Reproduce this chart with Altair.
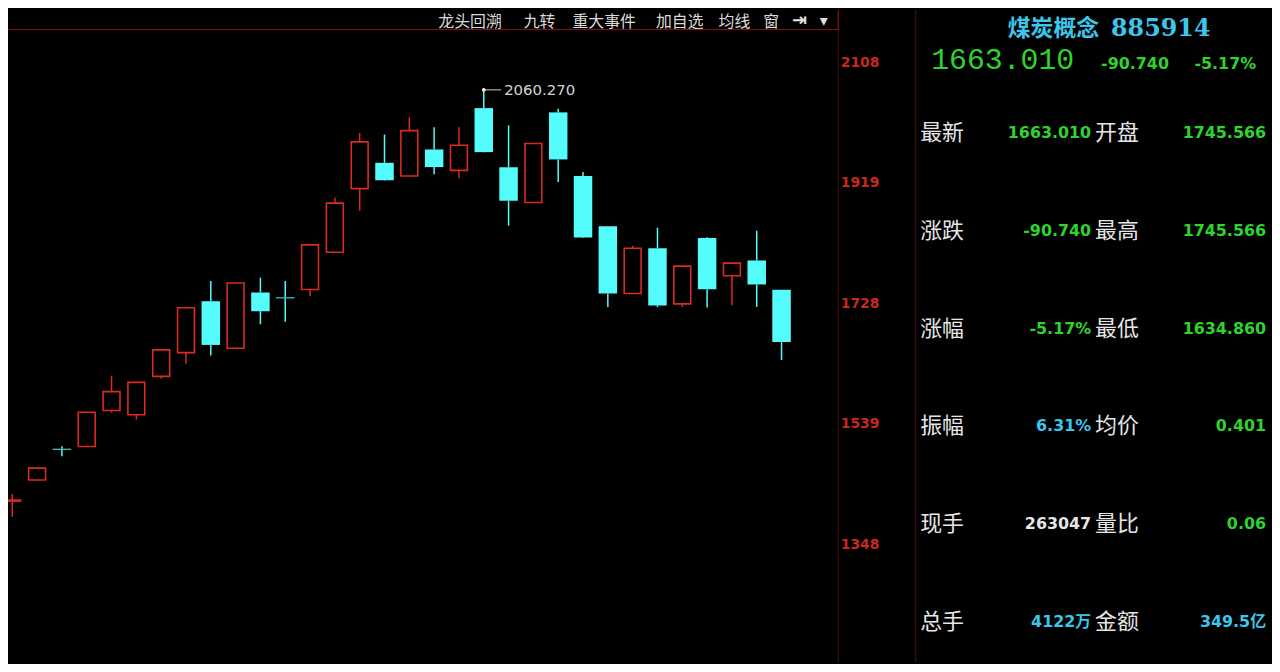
import altair as alt
import pandas as pd

# ---------------- data ----------------
opens = [1412.6, 1445.8, 1495.0, 1498.5, 1555.3, 1548.6, 1609.0, 1646.5,
         1727.4, 1653.4, 1741.1, 1733.5, 1745.8, 1804.6, 1904.8, 1945.4,
         1924.6, 1966.4, 1933.5, 2031.5, 1938.2, 1882.9, 2024.8, 1924.6,
         1845.3, 1739.5, 1810.9, 1723.2, 1827.1, 1767.6, 1791.6, 1745.566]
highs = [1423.8, 1466.1, 1498.9, 1553.4, 1610.1, 1600.3, 1652.3, 1718.5,
         1759.2, 1757.0, 1764.5, 1759.2, 1817.0, 1890.7, 1992.4, 1989.9,
         2016.9, 2001.3, 2001.3, 2060.27, 2004.4, 1976.5, 2030.5, 1930.9,
         1846.0, 1814.6, 1843.2, 1783.5, 1828.0, 1788.0, 1838.5, 1745.566]
lows = [1387.8, 1444.2, 1483.3, 1497.8, 1552.2, 1541.2, 1605.4, 1628.9,
        1641.9, 1652.5, 1691.0, 1695.0, 1735.3, 1804.0, 1869.9, 1917.2,
        1924.0, 1927.3, 1921.0, 1961.5, 1846.4, 1882.2, 1915.2, 1827.0,
        1718.5, 1739.0, 1718.0, 1718.5, 1717.6, 1721.2, 1718.5, 1634.86]
closes = [1414.2, 1464.5, 1493.6, 1552.6, 1585.0, 1599.6, 1650.8, 1717.0,
          1658.6, 1756.1, 1711.8, 1732.0, 1816.2, 1881.9, 1978.3, 1917.9,
          1996.1, 1938.7, 1973.1, 1962.2, 1885.5, 1975.8, 1950.7, 1827.6,
          1739.5, 1810.9, 1720.7, 1782.7, 1746.2, 1787.4, 1753.8, 1663.01]

y_ticks = [2108, 1919, 1728, 1539, 1348]

toolbar_items = ["龙头回溯", "九转", "重大事件", "加自选", "均线", "窗"]

title_name = "煤炭概念"
title_code = "885914"
quote_last = "1663.010"
quote_change = "-90.740"
quote_pct = "-5.17%"

panel_left_labels = ["最新", "涨跌", "涨幅", "振幅", "现手", "总手"]
panel_left_values = ["1663.010", "-90.740", "-5.17%", "6.31%", "263047", "4122万"]
panel_right_labels = ["开盘", "最高", "最低", "均价", "量比", "金额"]
panel_right_values = ["1745.566", "1745.566", "1634.860", "0.401", "0.06", "349.5亿"]

# ---------------- styles / layout ----------------
RED = "#D92B1F"
CYAN = "#54FCFC"
AXIS_RED = "#C8281E"
GREEN = "#2ED42E"
BLUE = "#3CC6EC"
WHITE = "#E6E6E6"
FRAME = "#5A0C0C"
FRAME_BRIGHT = "#8A1414"
CJK = "Noto Sans CJK SC"
NUM = "DejaVu Sans, Noto Sans CJK SC"

W, H = 1272, 656
TOOLBAR_X = [433, 519, 568, 652, 715, 760]
left_value_colors = [GREEN, GREEN, GREEN, BLUE, WHITE, BLUE]
right_value_colors = [GREEN, GREEN, GREEN, GREEN, GREEN, BLUE]

xs = alt.Scale(domain=[1.028, 51.564], nice=False, zero=False)
ys = alt.Scale(domain=[1159.33, 2185.94], nice=False, zero=False)

df = pd.DataFrame({"idx": list(range(1, len(opens) + 1)), "open": opens,
                   "high": highs, "low": lows, "close": closes})

base = alt.Chart(df).transform_calculate(
    top="max(datum.open, datum.close)",
    bot="min(datum.open, datum.close)",
    dir="datum.close >= datum.open ? 'up' : 'down'",
)
X = alt.X("idx:Q", scale=xs, axis=None)
col = alt.Color("dir:N", scale=alt.Scale(domain=["up", "down"], range=[RED, CYAN]), legend=None)

upper = base.mark_rule(strokeWidth=1.5).encode(
    x=X, y=alt.Y("high:Q", scale=ys, axis=None), y2="top:Q", color=col)
lower = base.mark_rule(strokeWidth=1.5).encode(
    x=X, y=alt.Y("bot:Q", scale=ys, axis=None), y2="low:Q", color=col)
down_body = base.transform_filter("datum.dir == 'down'").mark_bar(
    size=18.6, color=CYAN).encode(
    x=X, y=alt.Y("open:Q", scale=ys, axis=None), y2="close:Q")
up_body = base.transform_filter("datum.dir == 'up'").mark_bar(
    size=17.0, fill="#000000", stroke=RED, strokeWidth=1.6).encode(
    x=X, y=alt.Y("open:Q", scale=ys, axis=None), y2="close:Q")

peak = base.transform_joinaggregate(maxh="max(high)").transform_filter("datum.high == datum.maxh")
peak_line = peak.transform_calculate(xe="datum.idx + 0.7").mark_rule(
    color="#D0D0D0", strokeWidth=1).encode(
    x=X, x2="xe:Q", y=alt.Y("high:Q", scale=ys, axis=None))
peak_dot = peak.mark_point(filled=True, size=14, color="#EEEEEE", opacity=1).encode(
    x=X, y=alt.Y("high:Q", scale=ys, axis=None))
peak_text = peak.mark_text(align="left", baseline="middle", dx=20.5, font="DejaVu Sans",
                           fontSize=15, color="#D4D4D4").encode(
    x=X, y=alt.Y("high:Q", scale=ys, axis=None), text=alt.Text("high:Q", format=".3f"))

# price labels in the axis column
ticks = alt.Chart(pd.DataFrame({"tick": y_ticks})).mark_text(
    align="left", baseline="middle", dy=3.0, font="DejaVu Sans", fontSize=14,
    fontWeight="bold", color=AXIS_RED).encode(
    x=alt.value(838), y=alt.Y("tick:Q", scale=ys, axis=None),
    text=alt.Text("tick:Q", format="d"))

# frame lines
one = alt.Chart(pd.DataFrame({"k": [0]}))
frames = [
    one.mark_rule(color=FRAME, strokeWidth=1).encode(x=alt.value(835.5), y=alt.value(0), y2=alt.value(H)),
    one.mark_rule(color=FRAME_BRIGHT, strokeWidth=1).encode(x=alt.value(835.5), y=alt.value(0), y2=alt.value(19.5)),
    one.mark_rule(color=FRAME_BRIGHT, strokeWidth=1).encode(x=alt.value(0), x2=alt.value(835.5), y=alt.value(19.5)),
    one.mark_rule(color=FRAME, strokeWidth=1).encode(x=alt.value(913.5), y=alt.value(0), y2=alt.value(H)),
]

# toolbar
tb = alt.Chart(pd.DataFrame({"item": toolbar_items, "tx": TOOLBAR_X})).mark_text(
    align="left", baseline="middle", font=CJK, fontSize=16, color="#DADADA").encode(
    x=alt.X("tx:Q", scale=None, axis=None), y=alt.value(12), text="item:N")
tb_icons = [
    one.mark_text(text="⇥", align="left", baseline="middle", font="DejaVu Sans",
                  fontSize=18, fontWeight="bold", color="#E0E0E0").encode(x=alt.value(789), y=alt.value(11)),
    one.mark_text(text="▾", align="left", baseline="middle", font="DejaVu Sans",
                  fontSize=16, color="#E0E0E0").encode(x=alt.value(817), y=alt.value(11)),
]

# header of right panel
header = [
    one.mark_text(text=title_name, align="center", baseline="middle", font=CJK, fontSize=23,
                  fontWeight="bold", color=BLUE).encode(x=alt.value(1052), y=alt.value(19.5)),
    one.mark_text(text=title_code, align="left", baseline="middle", font="DejaVu Serif", fontSize=24,
                  fontWeight="bold", color=BLUE).encode(x=alt.value(1110), y=alt.value(19)),
    one.mark_text(text=quote_last, align="left", baseline="middle", font="Liberation Mono", fontSize=30,
                  color=GREEN).encode(x=alt.value(929), y=alt.value(50)),
    one.mark_text(text=quote_change, align="left", baseline="middle", font="DejaVu Sans", fontSize=16,
                  fontWeight="bold", color=GREEN).encode(x=alt.value(1100), y=alt.value(54)),
    one.mark_text(text=quote_pct, align="right", baseline="middle", font="DejaVu Sans", fontSize=16,
                  fontWeight="bold", color=GREEN).encode(x=alt.value(1256), y=alt.value(54)),
]

panel = pd.DataFrame({"row": list(range(len(panel_left_labels))),
                      "l1": panel_left_labels, "v1": panel_left_values,
                      "l2": panel_right_labels, "v2": panel_right_values,
                      "c1": left_value_colors, "c2": right_value_colors})
pbase = alt.Chart(panel).transform_calculate(py="123.7 + datum.row * 98.4")
PY = alt.Y("py:Q", scale=None, axis=None)
panel_layers = [
    pbase.mark_text(align="left", baseline="middle", font=CJK, fontSize=22, color=WHITE).encode(
        x=alt.value(918), y=PY, text="l1:N"),
    pbase.mark_text(align="right", baseline="middle", font=NUM, fontSize=16, fontWeight="bold").encode(
        x=alt.value(1090), y=PY, text="v1:N", color=alt.Color("c1:N", scale=None)),
    pbase.mark_text(align="left", baseline="middle", font=CJK, fontSize=22, color=WHITE).encode(
        x=alt.value(1094), y=PY, text="l2:N"),
    pbase.mark_text(align="right", baseline="middle", font=NUM, fontSize=16, fontWeight="bold").encode(
        x=alt.value(1266), y=PY, text="v2:N", color=alt.Color("c2:N", scale=None)),
]

chart = alt.layer(
    *frames, upper, lower, down_body, up_body, peak_line, peak_dot, peak_text,
    ticks, tb, *tb_icons, *header, *panel_layers,
).properties(
    width=W, height=H, background="#000000", padding=0,
    autosize=alt.AutoSizeParams(type="none"),
).configure_view(stroke=None)

chart.save("out.html", embed_options={"renderer": "svg", "actions": False})
